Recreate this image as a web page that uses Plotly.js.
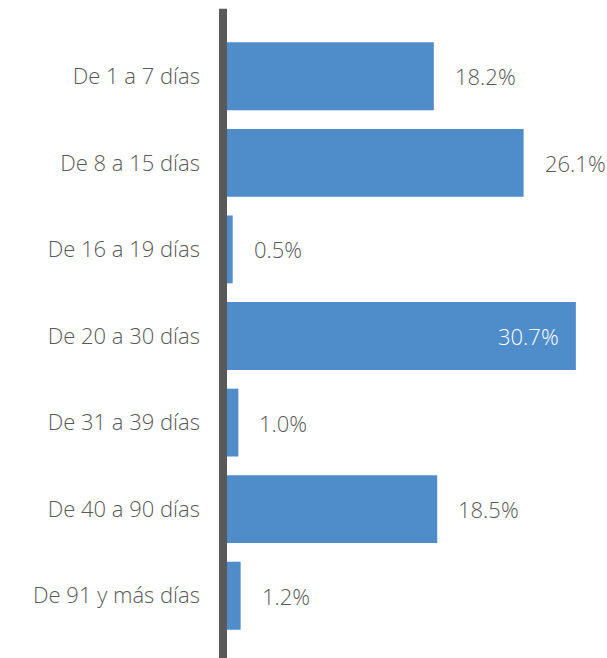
<!DOCTYPE html>
<html><head><meta charset="utf-8">
<script src="https://cdn.plot.ly/plotly-3.0.1.min.js"></script>
<style>html,body{margin:0;padding:0;background:#fff}</style>
</head><body>
<div id="chart" style="width:607px;height:658px"></div>
<script>
const categories = ["De 1 a 7 días","De 8 a 15 días","De 16 a 19 días","De 20 a 30 días","De 31 a 39 días","De 40 a 90 días","De 91 y más días"];
const values = [18.2, 26.1, 0.5, 30.7, 1.0, 18.5, 1.2];
const labels = ["18.2%","26.1%","0.5%","30.7%","1.0%","18.5%","1.2%"];

const barColor = "#4f8cca";
const textColor = "#595959";
const fontFam = "'Open Sans', sans-serif";
const maxV = Math.max(...values);

const annotations = categories.map((c, i) => {
  const inside = values[i] === maxV;
  return {
    x: values[i], y: c, xref: 'x', yref: 'y',
    text: labels[i], showarrow: false,
    xanchor: inside ? 'right' : 'left',
    xshift: inside ? -15 : 19,
    font: {family: fontFam, size: 22, weight: 300, color: inside ? '#ffffff' : textColor}
  };
});

const W = 375;
Plotly.newPlot('chart', [{
  type: 'bar', orientation: 'h',
  x: values, y: categories,
  marker: {color: barColor},
  hoverinfo: 'none'
}], {
  width: 607, height: 658,
  margin: {l: 227, r: 5, t: 33, b: 19},
  paper_bgcolor: '#fff', plot_bgcolor: '#fff',
  bargap: 0.216,
  showlegend: false,
  xaxis: {range: [0, 33], visible: false, fixedrange: true},
  yaxis: {
    autorange: 'reversed', showgrid: false, zeroline: false, showline: false,
    ticks: '', ticklabelstandoff: 26,
    tickfont: {family: fontFam, size: 22, weight: 300, color: textColor}
  },
  shapes: [{
    type: 'line', xref: 'paper', yref: 'paper',
    x0: -4 / W, x1: -4 / W, y0: -0.05, y1: 1.04,
    line: {color: '#595959', width: 8}
  }],
  annotations: annotations
}, {displayModeBar: false, staticPlot: true});
</script>
</body></html>
